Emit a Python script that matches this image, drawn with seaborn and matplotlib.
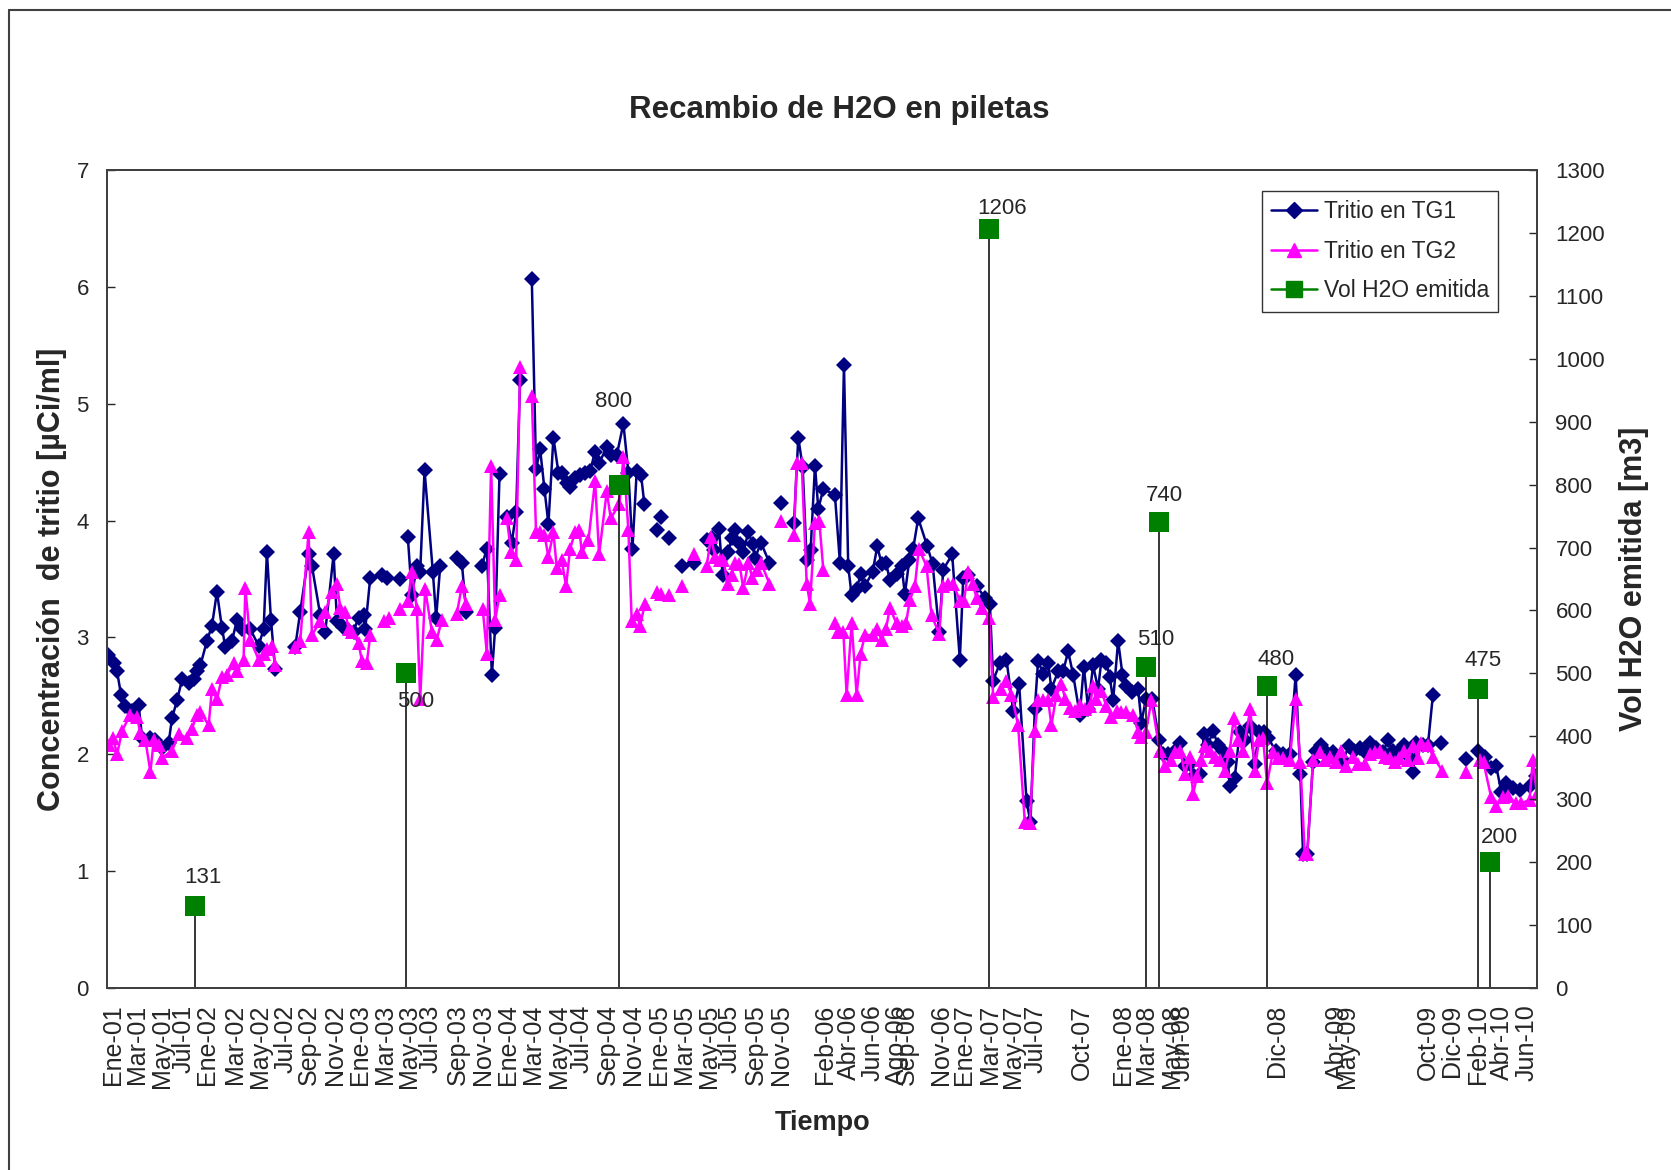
import numpy as np
import pandas as pd
import matplotlib.pyplot as plt
from matplotlib.lines import Line2D
import seaborn as sns

nan = np.nan

# posicion de cada muestra sobre el eje de tiempo (eje de categorias, 0..1343)
# nan = hueco en la serie (Excel no une los puntos)
tg1_x = [0.7, 6.3, 9.5, 13.2, 17.3, 23.6, 29.8, 33, 40.8, 45.5, 51.7, 58, 61.1, 65.8, 70.5, 76.7, 81.4, 84.5,
         87.7, 93.9, 98.6, 103.3, 108, 111.1, 117.4, 122.1, 126.8, 134.6, 142.4, 147.1, 150.2, 154, 158, nan,
         176.8, 181.5, 189.3, 192.5, 200.3, 205, 212.8, 216, 222, 225.3, 231.5, 236.2, 241, 242.5, 247.2, nan,
         258.1, nan, 262.8, nan, 274.7, nan, 282.5, 286.3, 291, 294.1, 298.2, 306, 309.1, 312.9, nan,
         328.5, 333.2, 337.3, nan, 352, 356.7, 361.4, 364.5, 368.6, nan, 375.4, 380.1, 384.2, 387.9, nan,
         398.9, 402.9, 406.7, 410.8, 414.5, 419.2, 423.9, 427, 431.7, 434.9, 439.6, 444.2, 449, 453.6, 458.3,
         462.1, 469.3, 473, 478.7, 484.9, 489.6, 493.4, 497.4, 501.5, 504.6, nan, 516.2, nan, 520.3, nan,
         528.1, nan, 539.7, nan, 551.5, nan, 563.1, 567.8, 570.3, 574.7, 578.1, 583.4, 586.6, 589.7, 594.4,
         597.5, 602.2, 606.3, 608.5, 614.1, 622, nan, 632.9, nan, 645.1, 649.1, 653.2, 657, 660.7, 664.8,
         667.9, 672.6, 683.5, 688.2, 692, 696, 699.2, 703.9, 707.6, 711.7, 718.9, 723.3, 727.3, 731.4, 735.1,
         741.4, 746.1, 749.2, 753.3, 757, 761.7, 770.2, 775.2, 781.4, 785.2, 793.6, 800.8, 804, 808.6, 816.5,
         824.3, 829, 832.1, 838.4, 844.6, 850.9, 856.5, 863.4, 867.1, 871.2, 874.3, 879, 883.7, 886.8, 893.1,
         897.8, 902.5, 907.2, 913.4, 917.2, 921.2, 925.9, 930.6, 933.8, 938.4, 941.6, 944.7, 949.4, 953.5,
         957.2, 962, 968.2, 971.3, 975.4, 981.6, 987.9, 991.6, 996.3, 1002.6, 1007.3, 1012, 1016.7, 1020.7,
         1026, 1030.1, 1033.9, 1038.5, 1043.2, 1047.9, 1052.6, 1054.2, 1058.9, 1063.6, 1068.3, 1073, 1077.6,
         1081.7, 1086.1, 1090.2, 1097.4, 1104.2, 1110.5, 1116.1, 1120.5, 1123, 1127, 1132.4, 1135.5, 1140.2,
         1144.9, 1151.1, 1155.8, 1160.5, 1166.2, 1170.5, 1176.2, 1180.9, 1186.2, 1191.2, 1198.1, 1202.8,
         1207.4, 1212.1, 1217.8, 1223.1, 1226.2, 1229.3, 1235.6, 1240.3, 1245, nan, 1252.8, nan, 1276.3, nan,
         1287.2, 1293.5, 1299.7, 1304.4, 1309.1, 1313.8, 1320.1, 1326.3, 1335.7, 1342]
tg1_y = [2.85, 2.78, 2.71, 2.51, 2.41, 2.37, 2.42, 2.14, 2.14, 2.12, 2.05, 2.10, 2.31, 2.46, 2.64, 2.61, 2.64, 2.71,
         2.76, 2.97, 3.10, 3.39, 3.08, 2.92, 2.97, 3.15, 3.07, 3.07, 2.93, 3.07, 3.73, 3.15, 2.73, nan,
         2.92, 3.22, 3.71, 3.61, 3.19, 3.05, 3.71, 3.14, 3.09, 3.07, 3.05, 3.17, 3.19, 3.07, 3.51, nan,
         3.53, nan, 3.51, nan, 3.50, nan, 3.86, 3.36, 3.61, 3.56, 4.43, 3.56, 3.17, 3.61, nan,
         3.68, 3.64, 3.22, nan, 3.61, 3.76, 2.68, 3.08, 4.40, nan, 4.03, 3.81, 4.07, 5.20, nan,
         6.07, 4.44, 4.61, 4.27, 3.97, 4.71, 4.41, 4.41, 4.32, 4.29, 4.36, 4.39, 4.41, 4.42, 4.59,
         4.49, 4.63, 4.56, 4.56, 4.83, 4.41, 3.76, 4.42, 4.39, 4.14, nan, 3.92, nan, 4.03, nan,
         3.85, nan, 3.61, nan, 3.64, nan, 3.83, 3.85, 3.75, 3.93, 3.53, 3.73, 3.85, 3.92, 3.80,
         3.73, 3.90, 3.80, 3.68, 3.81, 3.64, nan, 4.15, nan, 3.98, 4.71, 4.46, 3.66, 3.75, 4.47,
         4.10, 4.27, 4.22, 3.64, 5.33, 3.61, 3.36, 3.41, 3.54, 3.44, 3.56, 3.78, 3.63, 3.64, 3.49,
         3.54, 3.61, 3.37, 3.66, 3.76, 4.02, 3.78, 3.63, 3.05, 3.58, 3.71, 2.81, 3.51, 3.53, 3.44,
         3.34, 3.29, 2.63, 2.78, 2.81, 2.37, 2.60, 1.60, 1.42, 2.39, 2.80, 2.69, 2.78, 2.56, 2.71,
         2.71, 2.88, 2.68, 2.34, 2.75, 2.39, 2.76, 2.56, 2.81, 2.78, 2.66, 2.46, 2.97, 2.68,
         2.58, 2.53, 2.56, 2.27, 2.47, 2.47, 2.12, 2.00, 2.00, 2.03, 2.10, 1.90, 1.92, 1.81,
         1.83, 2.17, 2.08, 2.20, 2.08, 2.03, 1.93, 1.73, 1.80, 2.19, 2.12, 2.24, 1.92,
         2.19, 2.19, 2.14, 2.03, 2.00, 2.00, 2.68, 1.83, 1.15, 1.15, 1.93, 2.03, 2.08,
         2.02, 2.02, 1.98, 1.95, 2.07, 2.03, 2.05, 2.02, 2.10, 2.05, 2.02, 2.12,
         2.03, 2.02, 2.08, 1.97, 1.85, 2.10, 2.08, 2.08, 2.51, nan, 2.10, nan, 1.96, nan,
         2.03, 1.98, 1.88, 1.90, 1.68, 1.75, 1.71, 1.69, 1.73, 1.81]

tg2_x = [1.7, 5.7, 9.5, 14.2, 22, 28.2, 31.4, 36.1, 40.8, 44, 48.6, 51.7, 61.1, 67.3, 75.2, 79.9, 84.5, 87.7,
         95.5, 98.6, 103.3, 108, 112.7, 119, 122.1, 128.3, 129.9, 134.6, 142.4, 147.1, 150.2, 154.9, 158, nan,
         176.8, 181.5, 189.3, 192.5, 200.3, 205, 211.2, 216, 219.1, 223.7, 226.9, 230, 236.2, 239.4, 244, 247.2,
         nan, 259.7, 264.4, nan, 274.7, 282.5, 286.3, 291, 294.1, 298.8, 305.1, 309.7, 314.4, nan,
         328.5, 333.2, 337.3, nan, 352.9, 356.7, 360.7, 364.5, 368.6, nan, 375.4, 379.5, 384.2, 387.9, nan,
         398.9, 402.9, 406.7, 410.8, 414.5, 419.2, 422.4, 427, 431.1, 434.9, 439.6, 443.6, 445.8, 452.1,
         458.3, 462.1, 469.3, 473, 481.2, 484.9, 489.6, 492.7, 497.4, 500.5, 505.2, nan, 516.2, 520.3, nan,
         528.1, nan, 539.7, nan, 551.5, nan, 563.1, 567.2, 570.9, 575.6, 578.8, 582.8, 586.6, 589.7, 593.8,
         597.5, 602.2, 606, 610, 614.1, 622, nan, 632.9, nan, 645.1, 647.6, 652.3, 657, 660.1, 664.8, 668.8,
         672.6, nan, 683.5, 686.7, 691.4, 694.5, 699.2, 703.9, 707.6, 711.7, 719.5, 723.3, 727.3, 731.4,
         735.1, 741.4, 746.1, 750.2, 753.9, 758.6, 762.3, 769.5, 774.2, 781.4, 784.6, 789.9, 794.6, 800.8,
         804.6, 808.6, 812.7, 816.5, 821.2, 828.3, 832.1, 839.9, 843.9, 849.3, 855.5, 861.8, 866.5, 871.2,
         874.3, 879, 883.7, 886.8, 891.5, 896, 900, 904, 908.7, 913.4, 918.1, 922.8, 925.9, 929.1, 933.8,
         938.4, 943.1, 948, 952.5, 957.2, 963.5, 968.2, 971.3, 975.4, 980.7, 988.5, 993.2, 999.4, 1002.6,
         1007.9, 1012, 1016.7, 1019.8, 1023.5, 1027.6, 1030.7, 1035.4, 1040.1, 1044.8, 1049.5, 1054.2, 1058,
         1062, 1066.7, 1073.6, 1077.6, 1081.7, 1085.5, 1089.2, 1094.8, 1099.5, 1104.2, 1110.5, 1116.1, 1120.5,
         1124.6, 1127, 1132.4, 1138.6, 1143.3, 1148, 1153.6, 1159, 1163.7, 1170, 1174.6, 1180.9, 1185.5,
         1190.2, 1194.9, 1199.6, 1204.3, 1209, 1213.1, 1217.5, 1221.5, 1226.2, 1230.9, 1234, 1240.3, 1245,
         1253.7, nan, 1276.3, nan, 1288.8, 1292.5, 1299.7, 1304.4, 1310.7, 1315.4, 1323.2, 1327.9, 1335.7,
         1338.8, 1342.6]
tg2_y = [2.08, 2.14, 2.00, 2.20, 2.34, 2.32, 2.18, 2.12, 1.85, 2.12, 2.08, 1.97, 2.03, 2.17, 2.14, 2.22, 2.34, 2.36,
         2.25, 2.56, 2.47, 2.66, 2.68, 2.78, 2.71, 2.81, 3.42, 2.98, 2.81, 2.86, 2.90, 2.93, 2.76, nan,
         2.92, 2.97, 3.90, 3.02, 3.14, 3.22, 3.39, 3.46, 3.25, 3.22, 3.07, 3.05, 2.95, 2.80, 2.78, 3.02,
         nan, 3.14, 3.17, nan, 3.24, 3.31, 3.56, 3.24, 2.47, 3.41, 3.05, 2.98, 3.15, nan,
         3.20, 3.44, 3.29, nan, 3.24, 2.86, 4.47, 3.15, 3.36, nan, 4.02, 3.73, 3.66, 5.31, nan,
         5.07, 3.90, 3.90, 3.88, 3.69, 3.90, 3.59, 3.66, 3.44, 3.76, 3.90, 3.92, 3.73, 3.83,
         4.34, 3.71, 4.25, 4.02, 4.14, 4.54, 3.92, 3.14, 3.20, 3.10, 3.29, nan, 3.39, 3.37, nan,
         3.36, nan, 3.44, nan, 3.71, nan, 3.61, 3.86, 3.69, 3.66, 3.66, 3.46, 3.53, 3.64, 3.63,
         3.42, 3.64, 3.51, 3.58, 3.64, 3.46, nan, 4.00, nan, 3.88, 4.49, 4.49, 3.46, 3.29, 3.98, 4.00,
         3.58, nan, 3.12, 3.05, 3.05, 2.51, 3.12, 2.51, 2.86, 3.02, 3.02, 3.07, 2.98, 3.07,
         3.25, 3.12, 3.10, 3.12, 3.32, 3.44, 3.76, 3.61, 3.19, 3.03, 3.44, 3.46, 3.46, 3.31,
         3.31, 3.56, 3.46, 3.34, 3.25, 3.17, 2.49, 2.56, 2.63, 2.51, 2.25, 1.42, 1.41, 2.20,
         2.46, 2.46, 2.46, 2.25, 2.51, 2.60, 2.47, 2.40, 2.37, 2.42, 2.39, 2.41, 2.58, 2.47, 2.54,
         2.41, 2.32, 2.37, 2.36, 2.36, 2.34, 2.19, 2.15, 2.19, 2.46, 2.03, 1.90, 1.95, 2.02,
         2.03, 1.83, 1.98, 1.66, 1.81, 1.95, 2.07, 2.03, 1.98, 1.95, 1.86, 2.03, 2.31,
         2.12, 2.03, 2.39, 1.86, 2.12, 2.14, 1.75, 2.02, 1.97, 1.97, 1.95, 2.47, 1.93,
         1.15, 1.15, 1.95, 2.02, 1.95, 1.98, 1.93, 2.03, 1.90, 1.98, 1.92, 1.92, 2.00,
         2.02, 2.03, 1.98, 1.97, 1.93, 1.97, 2.03, 1.95, 2.07, 1.97, 2.10, 2.08, 1.98,
         1.86, nan, 1.85, nan, 1.95, 1.93, 1.63, 1.56, 1.63, 1.64, 1.58, 1.58, 1.61,
         1.95, 1.66]

vol_x = [83, 281, 481, 828, 976, 988, 1089, 1287, 1299]
vol_y = [131, 500, 800, 1206, 510, 740, 480, 475, 200]

mes_pos = [6, 28.5, 51.5, 72, 93.6, 120, 144, 168, 190, 214, 238, 261, 284, 304, 329, 353, 377, 400,
           424, 446, 470, 494, 518, 542, 565, 585, 609, 633, 674, 697, 719, 742, 751, 783, 805, 829,
           851, 872, 915, 954, 976, 1000, 1010, 1099, 1155, 1164, 1240, 1263, 1287, 1310, 1333]
mes_lbl = ['Ene-01', 'Mar-01', 'May-01', 'Jul-01', 'Ene-02', 'Mar-02', 'May-02', 'Jul-02', 'Sep-02',
           'Nov-02', 'Ene-03', 'Mar-03', 'May-03', 'Jul-03', 'Sep-03', 'Nov-03', 'Ene-04', 'Mar-04',
           'May-04', 'Jul-04', 'Sep-04', 'Nov-04', 'Ene-05', 'Mar-05', 'May-05', 'Jul-05', 'Sep-05',
           'Nov-05', 'Feb-06', 'Abr-06', 'Jun-06', 'Ago-06', 'Sep-06', 'Nov-06', 'Ene-07', 'Mar-07',
           'May-07', 'Jul-07', 'Oct-07', 'Ene-08', 'Mar-08', 'May-08', 'Jun-08', 'Dic-08', 'Abr-09',
           'May-09', 'Oct-09', 'Dic-09', 'Feb-10', 'Abr-10', 'Jun-10']


def serie(xs, ys):
    df = pd.DataFrame({'pos': xs, 'val': ys})
    df['seg'] = df['val'].isna().cumsum()
    return df.dropna()


sns.set_style('white')
plt.rcParams['font.family'] = ['Liberation Sans', 'DejaVu Sans']
plt.rcParams['axes.edgecolor'] = '#404040'

fig = plt.figure(figsize=(16.71, 11.70), dpi=100)
ax = fig.add_axes([0.064, 0.1556, 0.856, 0.6991])
ax2 = ax.twinx()

df1 = serie(tg1_x, tg1_y)
df2 = serie(tg2_x, tg2_y)

sns.lineplot(data=df1, x='pos', y='val', units='seg', estimator=None, sort=False, ax=ax,
             color='#000080', marker='D', markersize=8, markeredgewidth=0, linewidth=1.8, legend=False)
sns.lineplot(data=df2, x='pos', y='val', units='seg', estimator=None, sort=False, ax=ax,
             color='#FF00FF', marker='^', markersize=10, markeredgewidth=0, linewidth=1.8, legend=False)

# volumen emitido: lineas de caida + marcadores
ax2.vlines(vol_x, 0, vol_y, color='black', linewidth=1.1, zorder=2)
sns.scatterplot(x=vol_x, y=vol_y, ax=ax2, marker='s', s=190, color='#008000', linewidth=0, zorder=3)
offs = [26, -26, 78, 19, 26, 25, 25, 27, 23]
dx = [7, 9, -5, 12, 9, 5, 9, 5, 8]
for x, v, o, d in zip(vol_x, vol_y, offs, dx):
    ax2.annotate(str(v), (x, v), xytext=(d * 0.77, o * 0.77), textcoords='offset points',
                 ha='center', va='center', fontsize=16)

ax.set_xlim(0, 1343)
ax.set_ylim(0, 7)
ax2.set_ylim(0, 1300)
ax.set_yticks(range(0, 8))
ax2.set_yticks(range(0, 1400, 100))
ax.set_xticks(mes_pos)
ax.set_xticklabels(mes_lbl, rotation=90, fontsize=18)
ax.set_xticks(np.arange(0, 1343, 38.4), minor=True)
ax.tick_params(axis='x', which='major', length=0, pad=12)
ax.tick_params(axis='x', which='minor', length=6, direction='in', width=1, color='#404040')
ax.tick_params(axis='y', labelsize=16, length=6, direction='in', pad=13, width=1)
ax2.tick_params(axis='y', labelsize=16, length=6, direction='in', pad=13, width=1)
for a in (ax, ax2):
    for s in a.spines.values():
        s.set_linewidth(1.4)
ax.grid(False)
ax2.grid(False)

ax.set_xlabel('Tiempo', fontsize=19.5, fontweight='bold', labelpad=16)
ax.set_ylabel('Concentración  de tritio [µCi/ml]', fontsize=22, fontweight='bold', labelpad=7)
ax2.set_ylabel('Vol H2O emitida [m3]', fontsize=22, fontweight='bold', labelpad=10)
fig.text(0.502, 1 - 110 / 1170, 'Recambio de H2O en piletas', ha='center', va='center',
         fontsize=22.5, fontweight='bold')

handles = [Line2D([], [], color='#000080', marker='D', markersize=8, lw=1.8),
           Line2D([], [], color='#FF00FF', marker='^', markersize=10, lw=1.8),
           Line2D([], [], color='#008000', marker='s', markersize=12, lw=1.8)]
leg = ax2.legend(handles, ['Tritio en TG1', 'Tritio en TG2', 'Vol H2O emitida'], loc='upper right',
                 bbox_to_anchor=(0.9725, 0.974), fontsize=16.5, frameon=True, fancybox=False,
                 edgecolor='black', handlelength=2.0, handletextpad=0.3, borderpad=0.4,
                 labelspacing=0.72, borderaxespad=0)
leg.get_frame().set_linewidth(1.0)

# borde del area del grafico (solo arriba e izquierda quedan visibles)
fig.add_artist(Line2D([9 / 1671, 9 / 1671], [0, 1 - 10 / 1170], transform=fig.transFigure,
                      color='#404040', lw=1.5))
fig.add_artist(Line2D([9 / 1671, 1], [1 - 10 / 1170, 1 - 10 / 1170], transform=fig.transFigure,
                      color='#404040', lw=1.5))

fig.savefig('out.png', dpi=100)
